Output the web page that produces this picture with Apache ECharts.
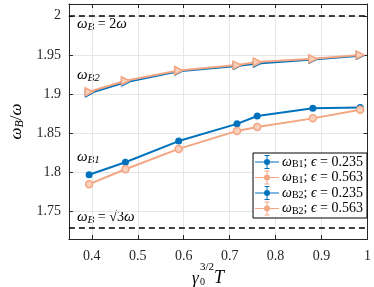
<!DOCTYPE html>
<html><head><meta charset="utf-8">
<script src="https://cdn.jsdelivr.net/npm/echarts@6/dist/echarts.min.js"></script>
<style>html,body{margin:0;padding:0;background:#fff}#c{width:374px;height:287px}</style>
</head><body><div id="c"></div>
<script>
const xVals = [0.394, 0.473, 0.589, 0.716, 0.760, 0.881, 0.984];
const b1Eps235 = [1.797, 1.813, 1.840, 1.862, 1.872, 1.882, 1.883];
const b1Eps563 = [1.785, 1.804, 1.830, 1.853, 1.858, 1.869, 1.880];
const b2Eps235 = [1.901, 1.915, 1.929, 1.936, 1.939, 1.944, 1.949];
const b2Eps563 = [1.903, 1.917, 1.930, 1.937, 1.941, 1.945, 1.950];
const xTicks = [0.4, 0.5, 0.6, 0.7, 0.8, 0.9, 1];
const yTicks = [1.75, 1.8, 1.85, 1.9, 1.95, 2];
const refLines = [2, Math.sqrt(3)];

const BLUE = '#0072BD', SAL = '#F4A582', SAL_L = '#F9D2BD', AX = '#262626';
const FF = 'Liberation Serif';
const pairs = a => a.map((v, i) => [xVals[i], v]);

const rich = {
  w: {fontFamily: FF, fontStyle: 'italic', fontSize: 15, lineHeight: 16, color: '#000'},
  r: {fontFamily: FF, fontSize: 14, lineHeight: 16, color: '#000'},
  si: {fontFamily: FF, fontStyle: 'italic', fontSize: 11, lineHeight: 9, verticalAlign: 'bottom', color: '#000'},
  sr: {fontFamily: FF, fontSize: 11, lineHeight: 9, verticalAlign: 'bottom', color: '#000'}
};
const lrich = {
  w: {fontFamily: FF, fontStyle: 'italic', fontSize: 14, lineHeight: 15, color: '#000'},
  r: {fontFamily: FF, fontSize: 14, lineHeight: 15, color: '#000'},
  sr: {fontFamily: FF, fontSize: 10, lineHeight: 9, verticalAlign: 'bottom', color: '#000'}
};
const legendText = {
  b1a: '{w|ω}{sr|B1}{r|; }{w|ϵ}{r| = 0.235}',
  b1b: '{w|ω}{sr|B1}{r|; }{w|ϵ}{r| = 0.563}',
  b2a: '{w|ω}{sr|B2}{r|; }{w|ϵ}{r| = 0.235}',
  b2b: '{w|ω}{sr|B2}{r|; }{w|ϵ}{r| = 0.563}'
};
const icon = 'path://M0,6.5H24V7.5H0Z M11.5,0H12.5V14H11.5Z M9.5,0H14.5V1H9.5Z M9.5,13H14.5V14H9.5Z M9,7A3,3 0 1,1 15,7A3,3 0 1,1 9,7Z';

const chart = echarts.init(document.getElementById('c'));
const axBase = {
  type: 'value',
  axisLine: {show: true, onZero: false, lineStyle: {color: AX, width: 1}},
  axisTick: {show: true, inside: true, length: 4, lineStyle: {color: AX}},
  splitLine: {show: false}
};
chart.setOption({
  animation: false,
  grid: {left: 54, right: 4, top: 4, bottom: 48},
  xAxis: [
    Object.assign({}, axBase, {min: 0.35, max: 1.0,
      axisTick: Object.assign({}, axBase.axisTick, {customValues: xTicks}),
      axisLabel: {customValues: xTicks, margin: 10, fontFamily: FF, fontSize: 14, color: AX, formatter: v => String(+v.toFixed(2))},
      splitLine: {show: true, customValues: xTicks, lineStyle: {color: '#e6e6e6', width: 1}}}),
    Object.assign({}, axBase, {min: 0.35, max: 1.0, position: 'top',
      axisTick: Object.assign({}, axBase.axisTick, {customValues: xTicks}),
      axisLabel: {show: false}})
  ],
  yAxis: [
    Object.assign({}, axBase, {min: 1.715, max: 2.015,
      axisTick: Object.assign({}, axBase.axisTick, {customValues: yTicks}),
      axisLabel: {customValues: yTicks, margin: 8, fontFamily: FF, fontSize: 14, color: AX, formatter: v => String(+v.toFixed(2))},
      splitLine: {show: true, customValues: yTicks, lineStyle: {color: '#e6e6e6', width: 1}},
      name: '{w|ω}{si|B}{r|/}{w|ω}', nameLocation: 'middle', nameGap: 40, nameRotate: 90,
      nameTextStyle: {rich: {
        w: {fontFamily: FF, fontStyle: 'italic', fontSize: 17, lineHeight: 18, color: '#000'},
        r: {fontFamily: FF, fontSize: 17, lineHeight: 18, color: '#000'},
        si: {fontFamily: FF, fontStyle: 'italic', fontSize: 12, lineHeight: 10, verticalAlign: 'bottom', color: '#000'}}}}),
    Object.assign({}, axBase, {min: 1.715, max: 2.015, position: 'right',
      axisTick: Object.assign({}, axBase.axisTick, {customValues: yTicks}),
      axisLabel: {show: false}})
  ],
  legend: {
    orient: 'vertical', right: 7, top: 153,
    backgroundColor: '#fff', borderColor: '#000', borderWidth: 1,
    padding: [2, 4, 2, 2], itemGap: 1, itemWidth: 24, itemHeight: 14,
    textStyle: {rich: lrich, padding: [0, 0, 0, -2]},
    formatter: n => legendText[n],
    data: [
      {name: 'b1a', icon: icon, itemStyle: {color: BLUE, borderWidth: 0}},
      {name: 'b1b', icon: icon, itemStyle: {color: SAL, borderWidth: 0}},
      {name: 'b2a', icon: icon, itemStyle: {color: BLUE, borderWidth: 0}},
      {name: 'b2b', icon: icon, itemStyle: {color: SAL, borderWidth: 0}}
    ]
  },
  series: [
    {name: 'b1a', type: 'line', data: pairs(b1Eps235), symbol: 'circle', symbolSize: 7,
      lineStyle: {color: BLUE, width: 2}, itemStyle: {color: BLUE},
      markLine: {silent: true, symbol: 'none', label: {show: false},
        lineStyle: {color: '#000', type: [6, 4], width: 1.5},
        data: refLines.map(v => ({yAxis: v}))}},
    {name: 'b1b', type: 'line', data: pairs(b1Eps563), symbol: 'circle', symbolSize: 7,
      lineStyle: {color: SAL, width: 2}, itemStyle: {color: SAL_L, borderColor: SAL, borderWidth: 1.5}},
    {name: 'b2a', type: 'line', data: pairs(b2Eps235), symbol: 'triangle', symbolRotate: -90, symbolSize: 8,
      lineStyle: {color: BLUE, width: 2}, itemStyle: {color: '#7fb4dc', borderColor: BLUE, borderWidth: 1}},
    {name: 'b2b', type: 'line', data: pairs(b2Eps563), symbol: 'triangle', symbolRotate: -90, symbolSize: 8,
      lineStyle: {color: SAL, width: 2}, itemStyle: {color: SAL_L, borderColor: SAL, borderWidth: 1.5}}
  ],
  graphic: [
    {type: 'text', left: 77, top: 17, style: {rich: rich, text: '{w|ω}{si|B}{r| = 2}{w|ω}'}},
    {type: 'text', left: 77, top: 68, style: {rich: rich, text: '{w|ω}{si|B2}'}},
    {type: 'text', left: 77, top: 150, style: {rich: rich, text: '{w|ω}{si|B1}'}},
    {type: 'text', left: 77, top: 210, style: {rich: rich, text: '{w|ω}{si|B}{r| = √3}{w|ω}'}},
    {type: 'text', left: 192, top: 270, style: {text: 'γ', fontFamily: FF, fontStyle: 'italic', fontSize: 17, fill: '#000'}},
    {type: 'text', left: 200, top: 262, style: {text: '3/2', fontFamily: FF, fontSize: 11, fill: '#000'}},
    {type: 'text', left: 200, top: 277, style: {text: '0', fontFamily: FF, fontSize: 10, fill: '#000'}},
    {type: 'text', left: 214, top: 269, style: {text: 'T', fontFamily: FF, fontStyle: 'italic', fontSize: 18, fill: '#000'}}
  ]
});
</script></body></html>
